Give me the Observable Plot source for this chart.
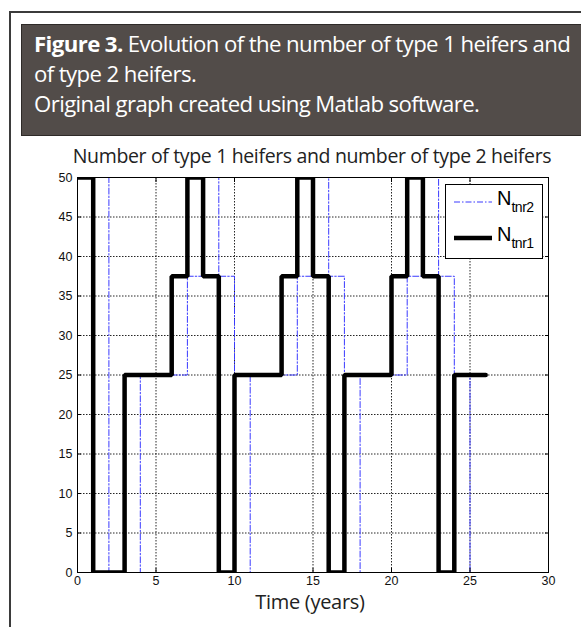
<!DOCTYPE html>
<html>
<head>
<meta charset="utf-8">
<script src="https://cdn.jsdelivr.net/npm/d3@7"></script>
<script src="https://cdn.jsdelivr.net/npm/@observablehq/plot@0.6"></script>
<style>
  html, body { margin: 0; padding: 0; background: #fff; }
  #page { position: relative; width: 581px; height: 627px; overflow: hidden; background: #fff; }
  #outer { position: absolute; left: 9px; top: 11px; width: 700px; height: 700px;
           border-left: 2px solid #3b3b3b; border-top: 2px solid #3b3b3b; }
  #hdr { position: absolute; left: 21px; top: 24px; width: 600px; height: 112px;
         background: #524c49; border: 1px solid #2e2a28; color: #fff;
         font-family: "Open Sans", sans-serif; font-size: 22.2px; line-height: 30px;
         padding: 4px 0 0 12px; box-sizing: border-box; white-space: nowrap; letter-spacing: -0.6px; }
  #hdr b { font-weight: 700; }
  #title { position: absolute; left: 0; width: 624px; top: 142px; text-align: center;
           font-family: "Open Sans", sans-serif; font-size: 19.5px; color: #222; letter-spacing: -0.35px; white-space: nowrap; }
  #xlabel { position: absolute; left: 0; width: 620px; top: 588px; text-align: center;
           font-family: "Open Sans", sans-serif; font-size: 20px; color: #222; letter-spacing: -0.3px; }
  #chart { position: absolute; left: 0; top: 170px; }
  #chart svg text { font-size: 12.5px !important; fill: #111; }
  #legend { position: absolute; left: 445px; top: 184px; width: 98px; height: 75px; box-sizing: border-box;
            border: 1px solid #000; background: #fff; font-family: "Liberation Sans", Arial, sans-serif; }
  .row { position: absolute; left: 6px; height: 30px; }
  .row svg { position: absolute; left: 0; }
  .row .lab { position: absolute; left: 45px; top: 0; font-size: 20px; color: #000; white-space: nowrap; }
  .row .lab sub { font-size: 14px; vertical-align: -7px; letter-spacing: -0.5px; }
</style>
</head>
<body>
<div id="page">
  <div id="outer"></div>
  <div id="hdr"><b>Figure 3.</b> Evolution of the number of type 1 heifers and<br>of type 2 heifers.<br>Original graph created using Matlab software.</div>
  <div id="title">Number of type 1 heifers and number of type 2 heifers</div>
  <div id="chart"></div>
  <div id="xlabel">Time (years)</div>
  <div id="legend"></div>
</div>
<script>
// Data
const time = [0,1,2,3,4,5,6,7,8,9,10,11,12,13,14,15,16,17,18,19,20,21,22,23,24,25,26];
const Ntnr1 = [50,0,0,25,25,25,37.5,50,37.5,0,25,25,25,37.5,50,37.5,0,25,25,25,37.5,50,37.5,0,25,25,25];
const Ntnr2 = [0,50,0,0,25,25,25,37.5,50,37.5,0,25,25,25,37.5,50,37.5,0,25,25,25,37.5,50,37.5,0,25,25];
const xTicks = [0,5,10,15,20,25,30];
const yTicks = [0,5,10,15,20,25,30,35,40,45,50];
const seriesNames = ["N<sub>tnr2</sub>", "N<sub>tnr1</sub>"];

const d1 = time.map((t, i) => ({t, v: Ntnr1[i]}));
const d2 = time.map((t, i) => ({t, v: Ntnr2[i]}));

const blue = "#3a3aff";
const dashDot = "6,2,1.5,2";

const chart = Plot.plot({
  width: 581,
  height: 457,
  marginLeft: 77,
  marginRight: 33,
  marginTop: 7,
  marginBottom: 55,
  style: { fontFamily: "'Liberation Sans', Arial, sans-serif", fontSize: "12.5px", color: "#111", background: "transparent" },
  x: { domain: [0, 30] },
  y: { domain: [0, 50] },
  marks: [
    Plot.gridX(xTicks, { stroke: "#000", strokeOpacity: 0.85, strokeDasharray: "1.5,1.5" }),
    Plot.gridY(yTicks, { stroke: "#000", strokeOpacity: 0.85, strokeDasharray: "1.5,1.5" }),
    Plot.line(d2, { x: "t", y: "v", curve: "step-after", stroke: blue, strokeWidth: 1, strokeDasharray: dashDot, clip: true }),
    Plot.line(d1, { x: "t", y: "v", curve: "step-after", stroke: "#000", strokeWidth: 4.5, strokeLinejoin: "miter", clip: true }),
    Plot.frame({ stroke: "#000", strokeWidth: 1 }),
    Plot.axisX(xTicks, { anchor: "bottom", tickSize: -4, tickPadding: 8, label: null, stroke: "#000", fontSize: 12.5 }),
    Plot.axisX(xTicks, { anchor: "top", tickSize: -4, tickFormat: () => "", label: null, stroke: "#000" }),
    Plot.axisY(yTicks, { anchor: "left", tickSize: -4, tickPadding: 9, label: null, stroke: "#000", fontSize: 12.5 }),
    Plot.axisY(yTicks, { anchor: "right", tickSize: -4, tickFormat: () => "", label: null, stroke: "#000" })
  ]
});
document.getElementById("chart").appendChild(chart);

// Legend (order as in the reference: type 2 first, then type 1)
const legend = document.getElementById("legend");
const styles = [
  { stroke: blue, width: 1, dash: dashDot },
  { stroke: "#000", width: 4.5, dash: null }
];
seriesNames.forEach((name, i) => {
  const row = document.createElement("div");
  row.className = "row";
  row.style.top = (2 + i * 36) + "px";
  const s = styles[i];
  row.innerHTML = `<svg width="42" height="30"><line x1="2" x2="40" y1="15" y2="15" stroke="${s.stroke}" stroke-width="${s.width}" ${s.dash ? `stroke-dasharray="${s.dash}"` : ""}/></svg><span class="lab">${name}</span>`;
  legend.appendChild(row);
});
</script>
</body>
</html>
